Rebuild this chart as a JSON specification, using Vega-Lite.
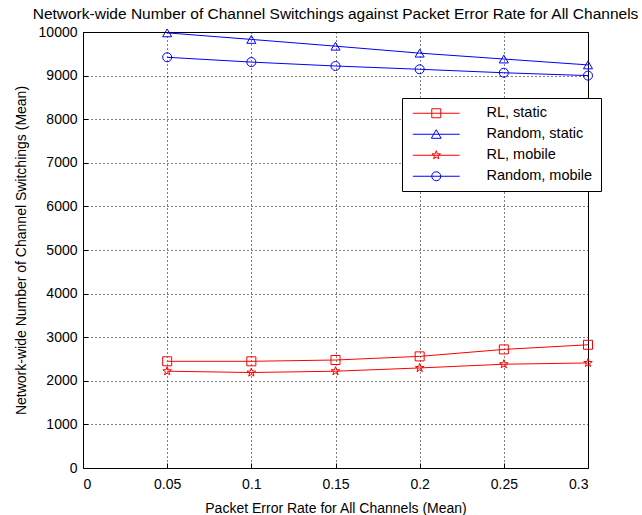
{
  "$schema": "https://vega.github.io/schema/vega-lite/v6.json",
  "autosize": "none",
  "width": 505,
  "height": 436,
  "padding": {"left": 83, "top": 32, "right": 54, "bottom": 47},
  "background": "white",
  "config": {
    "font": "Liberation Sans",
    "view": {"stroke": "black", "strokeWidth": 1},
    "axis": {
      "labelFont": "Liberation Sans",
      "titleFont": "Liberation Sans",
      "labelFontSize": 14,
      "titleFontSize": 14,
      "titleFontWeight": "normal",
      "labelColor": "black",
      "titleColor": "black",
      "domainColor": "black",
      "tickColor": "black",
      "gridColor": "black",
      "gridOpacity": 1,
      "gridDash": [1, 3],
      "gridWidth": 1
    },
    "legend": {
      "orient": "none",
      "legendX": 319,
      "legendY": 66,
      "strokeColor": "black",
      "fillColor": "white",
      "padding": 8,
      "labelFont": "Liberation Sans",
      "labelFontSize": 14.5,
      "labelColor": "black",
      "labelOffset": 43,
      "symbolOffset": 19,
      "rowPadding": 6,
      "symbolSize": 81,
      "symbolStrokeWidth": 1,
      "symbolOpacity": 1,
      "symbolFillColor": "transparent"
    }
  },
  "title": {
    "text": "Network-wide Number of Channel Switchings against Packet Error Rate for All Channels",
    "font": "Liberation Sans",
    "fontSize": 15.5,
    "fontWeight": "normal",
    "color": "black",
    "anchor": "middle",
    "offset": 3
  },
  "data": {
    "values": [
      {"series": "RL, static", "per": 0.05, "val": 2447},
      {"series": "RL, static", "per": 0.10, "val": 2447},
      {"series": "RL, static", "per": 0.15, "val": 2477},
      {"series": "RL, static", "per": 0.20, "val": 2560},
      {"series": "RL, static", "per": 0.25, "val": 2720},
      {"series": "RL, static", "per": 0.30, "val": 2826},
      {"series": "Random, static", "per": 0.05, "val": 9980},
      {"series": "Random, static", "per": 0.10, "val": 9830},
      {"series": "Random, static", "per": 0.15, "val": 9675},
      {"series": "Random, static", "per": 0.20, "val": 9515},
      {"series": "Random, static", "per": 0.25, "val": 9380},
      {"series": "Random, static", "per": 0.30, "val": 9245},
      {"series": "RL, mobile", "per": 0.05, "val": 2220},
      {"series": "RL, mobile", "per": 0.10, "val": 2190},
      {"series": "RL, mobile", "per": 0.15, "val": 2220},
      {"series": "RL, mobile", "per": 0.20, "val": 2295},
      {"series": "RL, mobile", "per": 0.25, "val": 2380},
      {"series": "RL, mobile", "per": 0.30, "val": 2410},
      {"series": "Random, mobile", "per": 0.05, "val": 9420},
      {"series": "Random, mobile", "per": 0.10, "val": 9310},
      {"series": "Random, mobile", "per": 0.15, "val": 9220},
      {"series": "Random, mobile", "per": 0.20, "val": 9145},
      {"series": "Random, mobile", "per": 0.25, "val": 9065},
      {"series": "Random, mobile", "per": 0.30, "val": 9000}
    ]
  },
  "encoding": {
    "x": {
      "field": "per", "type": "quantitative",
      "scale": {"domain": [0, 0.3], "nice": false, "zero": false},
      "axis": {
        "title": "Packet Error Rate for All Channels (Mean)",
        "values": [0, 0.05, 0.1, 0.15, 0.2, 0.25, 0.3],
        "format": "~g",
        "tickSize": -5,
        "labelPadding": 14,
        "titlePadding": 10,
        "grid": true
      }
    },
    "y": {
      "field": "val", "type": "quantitative",
      "scale": {"domain": [0, 10000], "nice": false},
      "axis": {
        "title": "Network-wide Number of Channel Switchings (Mean)",
        "values": [0, 1000, 2000, 3000, 4000, 5000, 6000, 7000, 8000, 9000, 10000],
        "format": "d",
        "tickSize": -5,
        "labelPadding": 11,
        "titlePadding": 10,
        "grid": true
      }
    }
  },
  "layer": [
    {
      "mark": {"type": "line", "strokeWidth": 1},
      "encoding": {
        "color": {
          "field": "series", "type": "nominal",
          "scale": {
            "domain": ["RL, static", "Random, static", "RL, mobile", "Random, mobile"],
            "range": ["#ff0000", "#0000ff", "#ff0000", "#0000ff"]
          },
          "legend": null
        },
        "detail": {"field": "series"}
      }
    },
    {
      "mark": {"type": "point", "filled": false, "strokeWidth": 1, "opacity": 1, "size": 81},
      "encoding": {
        "color": {
          "field": "series", "type": "nominal",
          "scale": {
            "domain": ["RL, static", "Random, static", "RL, mobile", "Random, mobile"],
            "range": ["#ff0000", "#0000ff", "#ff0000", "#0000ff"]
          },
          "legend": null
        },
        "shape": {
          "field": "series", "type": "nominal",
          "scale": {
            "domain": ["RL, static", "Random, static", "RL, mobile", "Random, mobile"],
            "range": ["square", "triangle-up", "M0,-1L0.235,-0.324L0.951,-0.309L0.38,0.124L0.588,0.809L0,0.4L-0.588,0.809L-0.38,0.124L-0.951,-0.309L-0.235,-0.324Z", "circle"]
          },
          "legend": null
        }
      }
    },
    {
      "transform": [{"filter": "datum.per > 1"}],
      "mark": {"type": "point", "filled": false, "strokeWidth": 1, "opacity": 1, "size": 81},
      "encoding": {
        "color": {
          "field": "series", "type": "nominal",
          "scale": {
            "domain": ["RL, static", "Random, static", "RL, mobile", "Random, mobile"],
            "range": ["#ff0000", "#0000ff", "#ff0000", "#0000ff"]
          },
          "legend": {"title": null}
        },
        "shape": {
          "field": "series", "type": "nominal",
          "scale": {
            "domain": ["RL, static", "Random, static", "RL, mobile", "Random, mobile"],
            "range": [
              "M-5.2,0H5.2M-1,-1H1V1H-1Z",
              "M-5.2,0H5.2M0,-1L1.1,0.9L-1.1,0.9Z",
              "M-5.2,0H5.2M0,-1L0.235,-0.324L0.951,-0.309L0.38,0.124L0.588,0.809L0,0.4L-0.588,0.809L-0.38,0.124L-0.951,-0.309L-0.235,-0.324Z",
              "M-5.2,0H5.2M-1,0A1,1,0,1,0,1,0A1,1,0,1,0,-1,0Z"
            ]
          },
          "legend": {"title": null}
        }
      }
    }
  ],
  "resolve": {"scale": {"color": "independent", "shape": "independent"}}
}
